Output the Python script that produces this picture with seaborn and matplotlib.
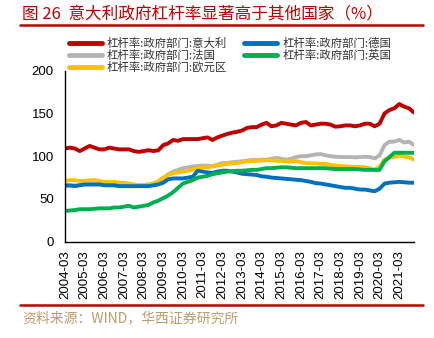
import matplotlib
matplotlib.use("Agg")
import matplotlib.pyplot as plt
from matplotlib.lines import Line2D
import numpy as np
import pandas as pd
import seaborn as sns

# Quarterly government-sector leverage ratio (% of GDP), 2004-03 .. 2021-12
italy = [109, 110, 109, 106, 109, 112, 110, 108, 108, 110, 109, 108,
         108, 108, 106, 105, 106, 107, 106, 107, 113, 115, 119, 118,
         120, 120, 120, 120, 121, 122, 119, 122, 124, 126, 127.5, 128.5,
         130, 133, 134, 134, 137, 139, 135, 136, 139, 138, 137, 136,
         139, 140, 136, 137, 138, 138, 137, 134.5, 135, 136, 136, 135,
         136, 138, 138, 135, 138, 150, 154, 156, 161, 158, 156, 151]
germany = [66, 66, 65, 66, 67, 67, 67, 67, 66, 66, 66, 65,
           65, 65, 65, 65, 65, 65, 66, 67, 69, 73, 74, 74,
           74, 75, 76, 83, 82, 81, 80.5, 82, 83, 83, 82, 81,
           79.5, 79, 78.5, 78, 76.5, 76, 75, 74.5, 74, 73.5, 73, 72.5,
           72, 71, 70, 68.5, 68, 67, 66, 65, 64, 63, 63, 62,
           61, 61, 60, 59, 62, 68, 69, 69.5, 70, 69.5, 69, 69]
france = [65, 65, 66, 66, 67, 67, 67, 67, 67, 66, 66, 66,
          65, 65, 65, 66, 66, 67, 68, 70, 74, 79, 82, 84,
          86, 87, 88, 88.5, 89, 89, 88.5, 90, 92, 92, 93, 93.5,
          94, 95, 95.5, 95.5, 96, 96, 97, 98, 97, 96, 97, 99,
          100, 100, 101, 102, 102.5, 101, 100, 99.4, 99, 99, 99, 98.6,
          99, 99.4, 99, 97.5, 101, 113, 117, 117, 119, 116, 117, 113]
uk = [36, 36.5, 37, 38, 38, 38, 38.5, 39, 39, 39, 40, 40,
      41, 42, 40, 41, 42, 43, 46, 48, 51, 54, 58, 63,
      68, 70, 72, 75, 76, 77, 79, 80, 81, 82, 82.5, 83,
      83, 83.5, 84, 84, 85, 86, 86, 86.5, 87, 87, 86.5, 86,
      86, 86, 86, 86, 86, 86, 85.5, 85, 85, 85, 85, 85,
      84.5, 84, 84, 84, 84, 94, 99, 104, 104, 104, 104, 104]
euro_area = [71, 72, 72, 71, 71, 72, 72, 71, 70, 70, 70, 69,
             69, 68, 67, 66, 66, 67, 68, 71, 75, 78, 80, 81,
             82, 83, 84, 86, 87, 87, 88, 89, 90, 91, 91.5, 92,
             93, 94, 94.3, 94.5, 95, 95.5, 95, 94.7, 94.5, 94, 93.6, 94.3,
             93, 92, 91.6, 91.5, 91, 91, 90, 89, 88.5, 88, 87.7, 87.5,
             87.5, 87, 86, 84, 87.7, 96, 98, 99, 100.6, 99.5, 98.6, 96]

series_names = ["杠杆率:政府部门:意大利", "杠杆率:政府部门:德国",
                "杠杆率:政府部门:法国", "杠杆率:政府部门:英国",
                "杠杆率:政府部门:欧元区"]
series_values = [italy, germany, france, uk, euro_area]
series_colors = ["#C00000", "#0070C0", "#B4B4B4", "#00B050", "#FFC000"]

tick_labels = [f"{y}-03" for y in range(2004, 2022)]
y_ticks = [0, 50, 100, 150, 200]

frames = []
for name, vals in zip(series_names, series_values):
    frames.append(pd.DataFrame({"q": np.arange(len(vals)), "value": vals, "series": name}))
df = pd.concat(frames, ignore_index=True)

sns.set_theme(style="white")
plt.rcParams["font.family"] = ["Liberation Sans", "Noto Sans CJK SC", "DejaVu Sans"]
cjk = ["Noto Sans CJK SC", "DejaVu Sans"]

fig = plt.figure(figsize=(4.34, 3.38), dpi=100)
ax = fig.add_axes([65 / 434, 1 - 241.7 / 338, (414 - 65) / 434, (241.7 - 70.7) / 338])

# draw in order so Italy sits on top
draw_order = [series_names[i] for i in (2, 4, 1, 3, 0)]
palette = dict(zip(series_names, series_colors))
for name in draw_order:
    sns.lineplot(data=df[df["series"] == name], x="q", y="value", color=palette[name],
                 linewidth=2.8, ax=ax, label=name, solid_capstyle="round")

ax.set_xlim(0, 71)
ax.set_ylim(0, 200)
ax.set_xticks(np.arange(0, 4 * len(tick_labels), 4))
ax.set_xticklabels(tick_labels, rotation=90, fontsize=9.5)
ax.set_yticks(y_ticks)
ax.set_yticklabels([str(v) for v in y_ticks], fontsize=9.5)
ax.set_xlabel("")
ax.set_ylabel("")
for side in ("top", "right"):
    ax.spines[side].set_visible(False)
for side in ("left", "bottom"):
    ax.spines[side].set_color("black")
    ax.spines[side].set_linewidth(1.0)
ax.tick_params(axis="both", direction="in", length=3.5, width=1.0, color="black",
               labelcolor="black")
ax.tick_params(axis="x", pad=6)
ax.tick_params(axis="y", pad=8)
ax.grid(False)

# legend: two columns, Italy / France / Euro area then Germany / UK
ax.get_legend().remove()
leg_order = [series_names[i] for i in (0, 2, 4, 1, 3)]
leg_handles = [Line2D([0], [0], color=palette[n], linewidth=3.5, solid_capstyle="round")
               for n in leg_order]
fig.legend(leg_handles, leg_order, loc="upper left", bbox_to_anchor=(0.158, 0.888),
           ncol=2, frameon=False, prop={"family": cjk, "size": 8.2},
           handlelength=2.9, handletextpad=0.45, columnspacing=1.5,
           labelspacing=0.05, borderpad=0, borderaxespad=0, labelcolor="#333333")

# header and footer
fig.text(22 / 434, 1 - 14 / 338, "图 26  意大利政府杠杆率显著高于其他国家（%）",
         color="#C00000", fontsize=12, family=cjk, va="center", ha="left")
fig.add_artist(Line2D([20 / 434, 423 / 434], [1 - 24.5 / 338, 1 - 24.5 / 338],
                      color="#C00000", linewidth=1.8, transform=fig.transFigure))
fig.add_artist(Line2D([20 / 434, 423 / 434], [1 - 305 / 338, 1 - 305 / 338],
                      color="#C00000", linewidth=1.8, transform=fig.transFigure))
fig.text(22 / 434, 1 - 318 / 338, "资料来源：WIND，华西证券研究所",
         color="#BF9B6A", fontsize=10, family=cjk, va="center", ha="left")

fig.savefig("out.png", dpi=100)
